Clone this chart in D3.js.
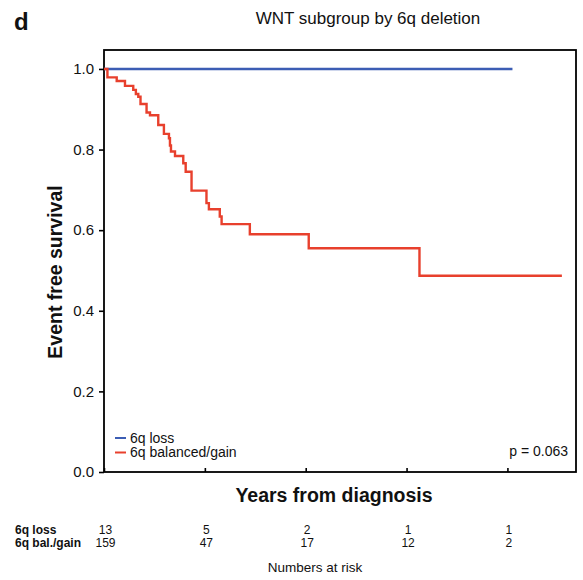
<!DOCTYPE html>
<html>
<head>
<meta charset="utf-8">
<script src="https://cdn.jsdelivr.net/npm/d3@7"></script>
<style>
  body { margin: 0; background: #fff; }
  text { font-family: "Liberation Sans", Arial, Helvetica, sans-serif; fill: #111; }
  .axis path.domain { display: none; }
  .axis line { stroke: #000; stroke-width: 1.6; }
</style>
</head>
<body>
<svg id="chart" width="583" height="580"></svg>
<script>
'use strict';

// Kaplan-Meier steps (years, survival)
const lossTimes = [0, 20.25];
const lossSurv = [1, 1];

const gainTimes = [0, 0.17, 0.63, 1.04, 1.45, 1.58, 1.70, 1.81, 2.11, 2.28, 2.69, 2.97, 3.22, 3.27, 3.32, 3.52, 3.93, 4.05, 4.34, 5.08, 5.20, 5.74, 5.83, 7.23, 10.15, 15.64, 22.7];
const gainSurv = [1, 0.979, 0.970, 0.958, 0.948, 0.938, 0.931, 0.913, 0.892, 0.885, 0.861, 0.839, 0.828, 0.81, 0.795, 0.784, 0.766, 0.745, 0.698, 0.667, 0.652, 0.634, 0.615, 0.590, 0.555, 0.487, 0.487];

const xTicks = [0, 5, 10, 15, 20];
const yTicks = [0, 0.2, 0.4, 0.6, 0.8, 1.0];

const groups = ['6q loss', '6q balanced/gain'];
const riskLabels = ['6q loss', '6q bal./gain'];
const riskLoss = [13, 5, 2, 1, 1];
const riskGain = [159, 47, 17, 12, 2];
const colors = ['#3c5db4', '#e8402d'];

const svg = d3.select('#chart');
const margin = {top: 50, right: 7, bottom: 108, left: 104};
const W = 583, H = 580;

const x = d3.scaleLinear()
  .domain([0, 23.4])
  .range([margin.left, W - margin.right]);

const y = d3.scaleLinear()
  .domain([0, 1.047])
  .range([H - margin.bottom, margin.top]);

// panel letter and title
svg.append('text')
    .attr('x', 14)
    .attr('y', 30)
    .style('font-size', '24px')
    .style('font-weight', 'bold')
    .text('d');

svg.append('text')
    .attr('x', 368)
    .attr('y', 24)
    .attr('text-anchor', 'middle')
    .style('font-size', '17px')
    .text('WNT subgroup by 6q deletion');

// axes
svg.append('g')
    .attr('class', 'axis y')
    .attr('transform', 'translate(' + margin.left + ',0)')
    .call(d3.axisLeft(y).tickValues(yTicks).tickFormat(d3.format('.1f')).tickSize(5).tickPadding(5))
  .selectAll('text')
    .style('font-size', '15px')
    .style('font-family', '"Liberation Sans", Arial, sans-serif');

svg.append('g')
    .attr('class', 'axis x')
    .attr('transform', 'translate(0,' + y(0) + ')')
    .call(d3.axisBottom(x).tickValues(xTicks).tickFormat('').tickSize(-4));

svg.append('rect')
    .attr('x', x(0))
    .attr('y', margin.top)
    .attr('width', x.range()[1] - x(0))
    .attr('height', y(0) - margin.top)
    .attr('fill', 'none')
    .attr('stroke', '#000')
    .attr('stroke-width', 1.8);

// survival curves
const line = d3.line()
  .curve(d3.curveStepAfter)
  .x(d => x(d[0]))
  .y(d => y(d[1]));

const series = [
  d3.zip(lossTimes, lossSurv),
  d3.zip(gainTimes, gainSurv)
];

svg.append('g')
  .selectAll('path')
  .data(series)
  .enter()
  .append('path')
    .attr('d', line)
    .attr('fill', 'none')
    .attr('stroke', (d, i) => colors[i])
    .attr('stroke-width', 2.4);

// legend
const legend = svg.append('g')
  .selectAll('g')
  .data(groups)
  .enter()
  .append('g')
    .attr('transform', (d, i) => 'translate(115,' + (438 + i * 14.5) + ')');

legend.append('line')
    .attr('x1', 0)
    .attr('x2', 11)
    .attr('stroke', (d, i) => colors[i])
    .attr('stroke-width', 2);

legend.append('text')
    .attr('x', 15)
    .attr('y', 4.5)
    .style('font-size', '14px')
    .text(d => d);

svg.append('text')
    .attr('x', 568)
    .attr('y', 456)
    .attr('text-anchor', 'end')
    .style('font-size', '14px')
    .text('p = 0.063');

// axis titles
svg.append('text')
    .attr('x', 334)
    .attr('y', 502)
    .attr('text-anchor', 'middle')
    .style('font-size', '19.5px')
    .style('font-weight', 'bold')
    .text('Years from diagnosis');

svg.append('text')
    .attr('transform', 'translate(62,272) rotate(-90)')
    .attr('text-anchor', 'middle')
    .style('font-size', '19.5px')
    .style('font-weight', 'bold')
    .text('Event free survival');

// numbers at risk
const riskRows = [riskLoss, riskGain];

const rows = svg.append('g')
  .selectAll('g')
  .data(riskRows)
  .enter()
  .append('g')
    .attr('transform', (d, i) => 'translate(0,' + (534 + i * 12.7) + ')');

rows.append('text')
    .attr('x', 15)
    .style('font-size', '12px')
    .style('font-weight', 'bold')
    .text((d, i) => riskLabels[i]);

rows.selectAll('text.n')
  .data(d => d)
  .enter()
  .append('text')
    .attr('class', 'n')
    .attr('x', (d, i) => x(xTicks[i]) + 1.5)
    .attr('text-anchor', 'middle')
    .style('font-size', '12px')
    .text(d => d);

svg.append('text')
    .attr('x', 315)
    .attr('y', 572)
    .attr('text-anchor', 'middle')
    .style('font-size', '13.5px')
    .text('Numbers at risk');
</script>
</body>
</html>
